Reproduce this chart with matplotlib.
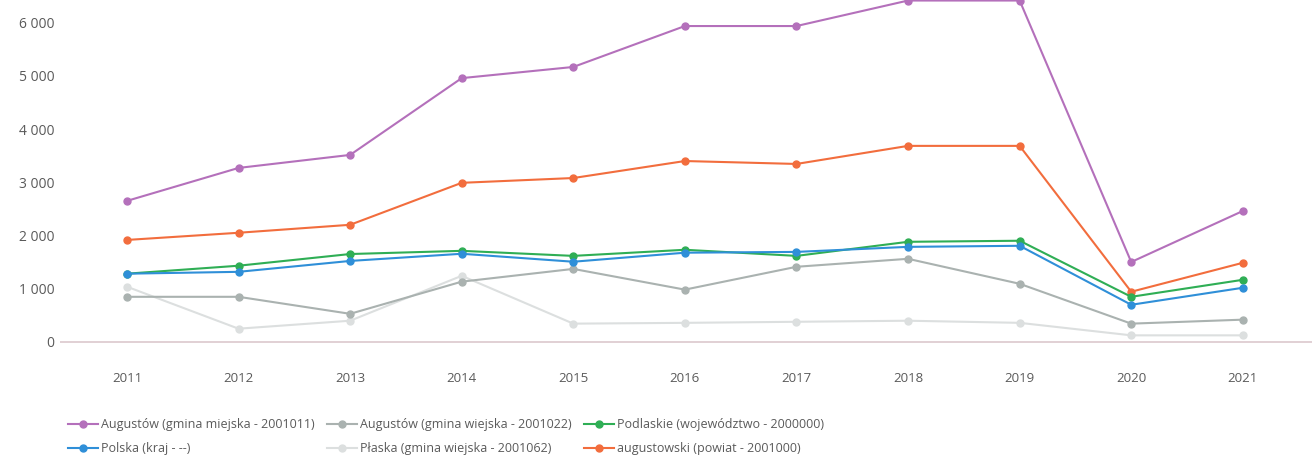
import matplotlib.pyplot as plt
from matplotlib.ticker import FuncFormatter

plt.rcParams['font.family'] = ['Open Sans', 'DejaVu Sans']

years = [2011, 2012, 2013, 2014, 2015, 2016, 2017, 2018, 2019, 2020, 2021]

augustow_miasto = [2650, 3270, 3515, 4960, 5170, 5940, 5940, 6420, 6420, 1500, 2460]
augustowski = [1915, 2050, 2200, 2990, 3080, 3400, 3345, 3685, 3685, 940, 1485]
podlaskie = [1280, 1430, 1650, 1710, 1615, 1730, 1615, 1880, 1900, 845, 1165]
polska = [1280, 1315, 1520, 1655, 1505, 1675, 1690, 1785, 1805, 695, 1015]
augustow_gmina = [845, 845, 525, 1130, 1370, 980, 1410, 1560, 1090, 340, 415]
plaska = [1035, 245, 395, 1240, 340, 355, 375, 395, 355, 120, 120]

labels = ["Augustów (gmina miejska - 2001011)",
          "Polska (kraj - --)",
          "Augustów (gmina wiejska - 2001022)",
          "Płaska (gmina wiejska - 2001062)",
          "Podlaskie (województwo - 2000000)",
          "augustowski (powiat - 2001000)"]

fig = plt.figure(figsize=(13.16, 4.61), dpi=100)
ax = fig.add_axes([60/1316, 106/461, 1252/1316, 355/461])

ax.axhline(0, color="#dcc8cd", lw=1.2, zorder=1)

series = [
    (plaska, "#dcdfdf", labels[3]),
    (augustow_gmina, "#aab2b0", labels[2]),
    (augustow_miasto, "#b470bb", labels[0]),
    (augustowski, "#f26d3d", labels[5]),
    (podlaskie, "#2fae55", labels[4]),
    (polska, "#2f8fd8", labels[1]),
]
handles = {}
for vals, col, lab in series:
    h, = ax.plot(years, vals, color=col, lw=1.5, marker="o", ms=5, label=lab, zorder=3)
    handles[lab] = h

ax.set_xlim(2010.40, 2021.62)
ax.set_ylim(-250, 6430)
ax.set_xticks(years)
ax.set_yticks(range(0, 7000, 1000))
ax.yaxis.set_major_formatter(FuncFormatter(lambda v, p: f"{int(v):,}".replace(",", " ")))
for s in ax.spines.values():
    s.set_visible(False)
ax.tick_params(axis="x", length=0, pad=12, labelsize=9.5, colors="#5a5a5a")
ax.tick_params(axis="y", length=0, pad=4, labelsize=10, colors="#5a5a5a")

fig.legend([handles[l] for l in labels], labels, ncol=3, loc="upper left",
           bbox_to_anchor=(57/1316, 1 - 407/461), frameon=False, fontsize=9,
           handlelength=2.4, handletextpad=0.25, columnspacing=0.95,
           labelspacing=0.85, labelcolor="#5a5a5a")

fig.savefig("out.png", dpi=100)
